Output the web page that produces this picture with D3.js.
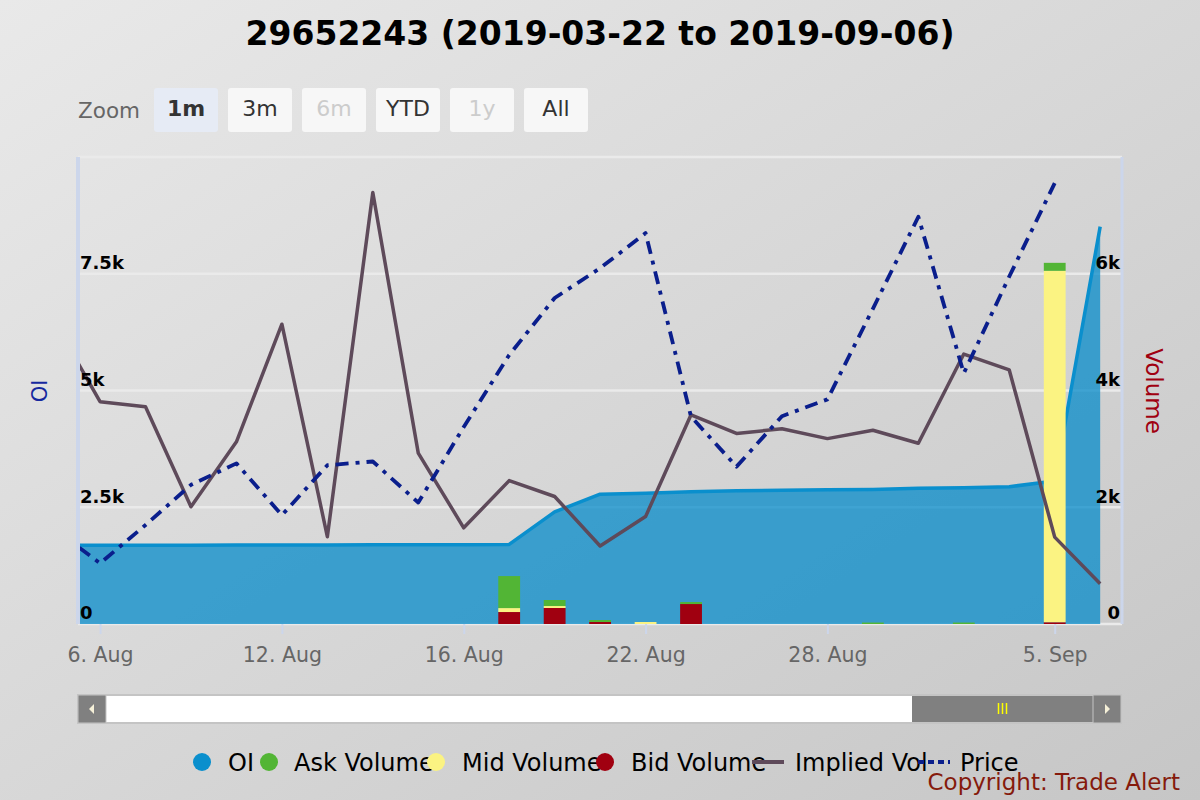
<!DOCTYPE html>
<html>
<head>
<meta charset="utf-8">
<script src="https://cdn.jsdelivr.net/npm/d3@7/dist/d3.min.js"></script>
<style>
  html, body { margin: 0; padding: 0; }
  body { width: 1200px; height: 800px; overflow: hidden; font-family: "DejaVu Sans", Verdana, sans-serif; }
</style>
</head>
<body>
<svg id="chart" width="1200" height="800"></svg>
<script>
// ---------------- DATA ----------------
const dates = ["2019-08-05","2019-08-06","2019-08-07","2019-08-08","2019-08-09",
  "2019-08-12","2019-08-13","2019-08-14","2019-08-15","2019-08-16",
  "2019-08-19","2019-08-20","2019-08-21","2019-08-22","2019-08-23",
  "2019-08-26","2019-08-27","2019-08-28","2019-08-29","2019-08-30",
  "2019-09-03","2019-09-04","2019-09-05","2019-09-06"];
const oi = [1685,1685,1688,1688,1690,1690,1692,1695,1695,1698,
  1705,2400,2780,2800,2830,2855,2865,2875,2880,2905,2920,2940,3060,8510];
const askVolume = [0,0,0,0,0,0,0,0,0,0,548,103,34,0,34,0,0,0,25,0,25,0,137,0];
const midVolume = [0,0,0,0,0,0,0,0,0,0,68,34,0,34,0,0,0,0,0,0,0,0,6020,0];
const bidVolume = [0,0,0,0,0,0,0,0,0,0,205,274,34,0,342,0,0,0,0,0,0,0,30,0];
const impliedVol = [64.7,47.6,46.5,25.1,39.0,64.2,18.7,92.4,36.6,20.6,
  30.7,27.3,16.7,23.0,44.8,40.8,41.8,39.7,41.5,38.7,57.8,54.4,18.6,8.6];
const price = [2.03,1.30,2.12,2.98,3.44,2.33,3.40,3.48,2.60,4.22,
  5.76,6.98,7.62,8.37,4.44,3.37,4.45,4.81,6.75,8.72,5.37,7.44,9.44,null];
const xTickDates = ["2019-08-06","2019-08-12","2019-08-16","2019-08-22","2019-08-28","2019-09-05"];
const xTickLabels = ["6. Aug","12. Aug","16. Aug","22. Aug","28. Aug","5. Sep"];
const oiTicks = [0,2500,5000,7500];
const oiTickLabels = ["0","2.5k","5k","7.5k"];
const volTicks = [0,2000,4000,6000];
const volTickLabels = ["0","2k","4k","6k"];
const zoomButtons = ["1m","3m","6m","YTD","1y","All"];
const legendNames = ["OI","Ask Volume","Mid Volume","Bid Volume","Implied Vol","Price"];
const titleText = "29652243 (2019-03-22 to 2019-09-06)";

// ---------------- LAYOUT ----------------
const W = 1200, H = 800;
const plot = {left: 78, right: 1122, top: 157, bottom: 624};
const colors = {oi: "#0a8fcd", ask: "#52b535", mid: "#fbf382", bid: "#a00010", iv: "#5e4a5a", price: "#0a1e8c"};

const svg = d3.select("#chart");
const defs = svg.append("defs");
const bg = defs.append("linearGradient").attr("id","bg").attr("x1","0").attr("y1","0").attr("x2","1").attr("y2","1");
bg.append("stop").attr("offset","0%").attr("stop-color","#e9e9e9");
bg.append("stop").attr("offset","100%").attr("stop-color","#c6c6c6");
defs.append("clipPath").attr("id","plotclip").append("rect")
  .attr("x", plot.left).attr("y", plot.top - 2).attr("width", plot.right - plot.left).attr("height", plot.bottom - plot.top + 2);

svg.append("rect").attr("width", W).attr("height", H).attr("fill", "url(#bg)");

// Scales (ordinal-like: equally spaced trading days)
const idx = dates.map((d, i) => i);
const x = d3.scaleLinear().domain([0.515, dates.length - 1 + 0.48]).range([plot.left, plot.right]);
const yOI = d3.scaleLinear().domain([0, 10000]).range([plot.bottom, plot.top]);
const yVol = d3.scaleLinear().domain([0, 8000]).range([plot.bottom, plot.top]);
const yIV = d3.scaleLinear().domain([0, 100]).range([plot.bottom, plot.top]);
const yPrice = d3.scaleLinear().domain([0, 10]).range([plot.bottom, plot.top]);

// Title
svg.append("text").attr("x", 600).attr("y", 45).attr("text-anchor","middle")
  .attr("font-size", 33).attr("font-weight","bold").attr("fill","#000").text(titleText);

// Zoom buttons
svg.append("text").attr("x", 78).attr("y", 118).attr("font-size", 21.5).attr("fill","#666").text("Zoom");
const btnStates = ["selected","normal","disabled","normal","disabled","normal"];
zoomButtons.forEach((b, i) => {
  const bx = 154 + i * 74;
  const st = btnStates[i];
  svg.append("rect").attr("x", bx).attr("y", 88).attr("width", 64).attr("height", 44).attr("rx", 3)
    .attr("fill", st === "selected" ? "#e6ebf5" : "#f7f7f7");
  svg.append("text").attr("x", bx + 32).attr("y", 116).attr("text-anchor","middle")
    .attr("font-size", 22).attr("font-weight", st === "selected" ? "bold" : "normal")
    .attr("fill", st === "disabled" ? "#cccccc" : "#333").text(b);
});

// Gridlines
const grid = svg.append("g");
[...oiTicks, 10000].forEach(t => {
  grid.append("line").attr("x1", plot.left).attr("x2", plot.right).attr("y1", yOI(t)).attr("y2", yOI(t))
    .attr("stroke", "#eaeaea").attr("stroke-width", 2.5);
});

const g = svg.append("g").attr("clip-path","url(#plotclip)");

// OI area
const area = d3.area().x((d, i) => x(i)).y0(plot.bottom).y1(d => yOI(d));
g.append("path").datum(oi).attr("d", area).attr("fill", "#068bca").attr("fill-opacity", 0.75);
g.append("path").datum(oi).attr("d", d3.line().x((d, i) => x(i)).y(d => yOI(d)))
  .attr("fill","none").attr("stroke", colors.oi).attr("stroke-width", 3.5).attr("stroke-linejoin","round");

// Stacked volume bars: bid bottom, mid, ask top
const barW = (x(1) - x(0)) * 0.48;
idx.forEach(i => {
  const stack = [[bidVolume[i], colors.bid], [midVolume[i], colors.mid], [askVolume[i], colors.ask]];
  let base = 0;
  stack.forEach(([v, c]) => {
    if (v > 0) {
      g.append("rect").attr("x", x(i) - barW / 2).attr("width", barW)
        .attr("y", yVol(base + v)).attr("height", yVol(base) - yVol(base + v)).attr("fill", c);
    }
    base += v;
  });
});

// Implied vol line
g.append("path").datum(impliedVol).attr("d", d3.line().x((d, i) => x(i)).y(d => yIV(d)))
  .attr("fill","none").attr("stroke", colors.iv).attr("stroke-width", 3.5).attr("stroke-linejoin","round");

// Price line
g.append("path").datum(price).attr("d", d3.line().defined(d => d !== null).x((d, i) => x(i)).y(d => yPrice(d)))
  .attr("fill","none").attr("stroke", colors.price).attr("stroke-width", 3.8)
  .attr("stroke-dasharray", "13,7,4,7").attr("stroke-linejoin","round");

// Axis lines (left/right)
svg.append("line").attr("x1", plot.left).attr("x2", plot.left).attr("y1", plot.top).attr("y2", plot.bottom)
  .attr("stroke", "#ccd6eb").attr("stroke-width", 4);
svg.append("line").attr("x1", plot.right).attr("x2", plot.right).attr("y1", plot.top).attr("y2", plot.bottom)
  .attr("stroke", "#ccd6eb").attr("stroke-width", 3);

// X axis
const xTickIdx = xTickDates.map(d => dates.indexOf(d));
const xAxis = d3.axisBottom(x).tickValues(xTickIdx)
  .tickFormat(v => xTickLabels[xTickIdx.indexOf(v)]).tickSize(10).tickPadding(10);
const xg = svg.append("g").attr("transform", `translate(0,${plot.bottom})`).call(xAxis);
xg.select(".domain").remove();
xg.selectAll(".tick line").attr("stroke", "#ccd6eb").attr("stroke-width", 2);
xg.selectAll(".tick text").attr("font-size", 20.5).attr("fill", "#666").attr("font-family", "DejaVu Sans").attr("dy", "0.9em");

// Left Y axis labels
const yl = d3.axisRight(yOI).tickValues(oiTicks).tickFormat((v, i) => oiTickLabels[i]).tickSize(0).tickPadding(2);
const ylg = svg.append("g").attr("transform", `translate(${plot.left},0)`).call(yl);
ylg.select(".domain").remove();
ylg.selectAll(".tick text").attr("font-size", 18).attr("font-weight","bold").attr("fill","#000")
  .attr("font-family","DejaVu Sans").attr("dy", "-0.28em");

// Right Y axis labels
const yr = d3.axisLeft(yVol).tickValues(volTicks).tickFormat((v, i) => volTickLabels[i]).tickSize(0).tickPadding(2);
const yrg = svg.append("g").attr("transform", `translate(${plot.right},0)`).call(yr);
yrg.select(".domain").remove();
yrg.selectAll(".tick text").attr("font-size", 18).attr("font-weight","bold").attr("fill","#000")
  .attr("font-family","DejaVu Sans").attr("dy", "-0.28em");

// Axis titles
svg.append("text").attr("transform", `translate(47,391) rotate(-90)`).attr("text-anchor","middle")
  .attr("font-size", 21).attr("fill", "#16289e").text("OI");
svg.append("text").attr("transform", `translate(1146,391) rotate(90)`).attr("text-anchor","middle")
  .attr("font-size", 23).attr("fill", "#a00010").text("Volume");

// Navigator scrollbar
const sb = {y: 695, h: 28, left: 78, right: 1121, thumbL: 912, thumbR: 1093};
svg.append("rect").attr("x", sb.left).attr("y", sb.y).attr("width", sb.right - sb.left).attr("height", sb.h)
  .attr("fill", "#fff").attr("stroke", "#c4c4c4").attr("stroke-width", 2);
svg.append("rect").attr("x", sb.thumbL).attr("y", sb.y + 1).attr("width", sb.thumbR - sb.thumbL).attr("height", sb.h - 2)
  .attr("fill", "#808080");
[[sb.left, -1], [sb.right - 28, 1]].forEach(([bx, dir]) => {
  svg.append("rect").attr("x", bx).attr("y", sb.y).attr("width", 28).attr("height", sb.h)
    .attr("fill", "#808080").attr("stroke", "#c4c4c4").attr("stroke-width", 1);
  const cx = bx + 14, cy = sb.y + sb.h / 2;
  svg.append("path").attr("d", `M${cx + dir * 3},${cy} L${cx - dir * 2},${cy - 5} L${cx - dir * 2},${cy + 5} Z`)
    .attr("fill", "#f5f0d8");
});
[-4, 0, 4].forEach(o => {
  const gx = (sb.thumbL + sb.thumbR) / 2 + o;
  svg.append("line").attr("x1", gx).attr("x2", gx).attr("y1", sb.y + 8).attr("y2", sb.y + 19)
    .attr("stroke", "#ffff00").attr("stroke-width", 1.5);
});

// Legend
const legendItems = [
  {sym: "circle", color: colors.oi, sx: 202, tx: 228},
  {sym: "circle", color: colors.ask, sx: 269, tx: 294},
  {sym: "circle", color: colors.mid, sx: 436, tx: 462},
  {sym: "circle", color: colors.bid, sx: 605, tx: 631},
  {sym: "line", color: colors.iv, sx: 752, tx: 795, dash: null},
  {sym: "line", color: colors.price, sx: 918, tx: 960, dash: "6,4"}
];
const ly = 762;
legendItems.forEach((it, i) => {
  if (it.sym === "circle") {
    svg.append("circle").attr("cx", it.sx).attr("cy", ly).attr("r", 9).attr("fill", it.color);
  } else {
    svg.append("line").attr("x1", it.sx).attr("x2", it.sx + 32).attr("y1", ly).attr("y2", ly)
      .attr("stroke", it.color).attr("stroke-width", 4).attr("stroke-dasharray", it.dash);
  }
  svg.append("text").attr("x", it.tx).attr("y", ly + 9).attr("font-size", 24).attr("fill", "#000").text(legendNames[i]);
});

// Copyright
svg.append("text").attr("x", 1180).attr("y", 790).attr("text-anchor","end").attr("font-size", 23)
  .attr("fill", "#851a0c").text("Copyright: Trade Alert");
</script>
</body>
</html>
